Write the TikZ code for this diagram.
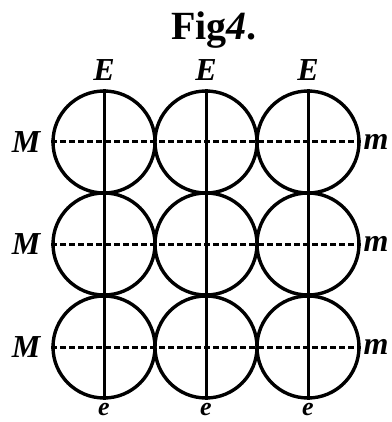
\documentclass[tikz,border=0pt]{standalone}
\usepackage{fontspec}
\setmainfont{Liberation Serif}
\begin{document}
\begin{tikzpicture}[x=1pt,y=-1pt,
  ball/.style={draw, line width=3.4pt, circle, minimum size=102pt, inner sep=0pt},
  axis/.style={line width=3pt},
  dashax/.style={line width=3pt, dash pattern=on 6pt off 3pt},
  lab/.style={font=\fontsize{32}{32}\selectfont\bfseries\itshape, inner sep=0pt},
  smalllab/.style={font=\fontsize{26}{26}\selectfont\bfseries\itshape, inner sep=0pt},
  title/.style={font=\fontsize{40}{40}\selectfont\bfseries, inner sep=0pt}]
\useasboundingbox (0,0) rectangle (391,422);
\foreach \r/\y in {1/142,2/244,3/347}{
  \foreach \c/\x in {1/104,2/206,3/308}{
    \node[ball] (c\r\c) at (\x,\y) {};
  }
}
\foreach \c in {1,2,3}{
  \draw[axis] (c1\c.north) -- (c3\c.south);
}
\foreach \r in {1,2,3}{
  \draw[dashax] (c\r1.west) -- (c\r3.east);
}
\node[title] (t) at (214,30) {Fig\textit{4}.};
\foreach \c/\x in {1/104,2/206,3/308}{
  \node[lab] (E\c) at (\x,70) {E};
  \node[smalllab, anchor=base] (e\c) at (\x,415) {e};
}
\foreach \r/\y in {1/142,2/244,3/347}{
  \node[lab] (M\r) at (26,\y) {M};
  \node[lab] (m\r) at (376,\y) {m};
}
\end{tikzpicture}
\end{document}
